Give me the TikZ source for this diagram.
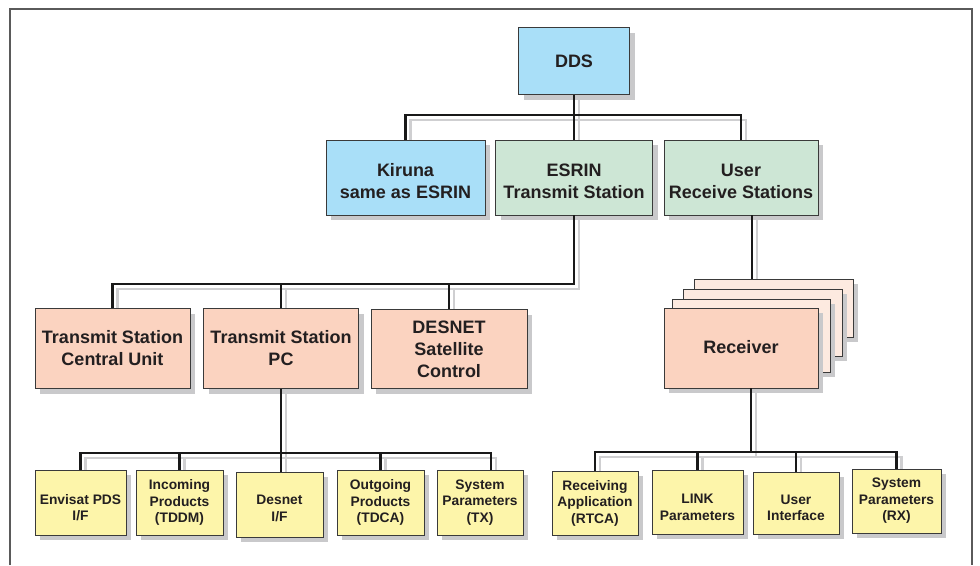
\documentclass[tikz,border=0pt]{standalone}
\usepackage{fontspec}
\setmainfont{Liberation Sans}
\usetikzlibrary{shadows,calc}
\pgfdeclarelayer{bg}
\pgfsetlayers{bg,main}
\definecolor{cblue}{HTML}{A9DFF8}
\definecolor{cgreen}{HTML}{CDE6D5}
\definecolor{csalmon}{HTML}{FBD3C0}
\definecolor{cpale}{HTML}{FDEAE0}
\definecolor{cyellow}{HTML}{FDF5AA}
\definecolor{boxc}{HTML}{3A3A3A}
\definecolor{txtc}{HTML}{231F20}
\definecolor{shc}{HTML}{C9C9CB}
\definecolor{lshc}{HTML}{CFCFD1}
\definecolor{framec}{HTML}{5A5A5A}
\newcommand\lowtext[2]{\raisebox{-#1}[\height][\depth]{\begin{tabular}{@{}c@{}}#2\end{tabular}}}
\tikzset{
  box/.style={draw=boxc, line width=0.9pt, text=txtc, align=center, inner sep=0pt,
    font=\bfseries\fontsize{18}{22}\selectfont,
    general shadow={fill=shc, shadow xshift=5pt, shadow yshift=-5pt}},
  small/.style={font=\bfseries\fontsize{13.8}{16.5}\selectfont},
  connblack/.style={line width=2.2pt, draw=black!90},
  connshadow/.style={line width=2.2pt, draw=lshc},
}
\newcommand\allconn{%
  \draw[cn] (dds.south) -- (esr.north);
  \draw[cn] (kir.north) |- (usr.north |- y1) -- (usr.north);
  \draw[cn] (tcu.north) |- (esr.south |- y2) -- (esr.south);
  \draw[cn] (tpc.north) -- (tpc.north |- y2);
  \draw[cn] (des.north) -- (des.north |- y2);
  \draw[cn] ([xshift=11pt]usr.south) -- ([xshift=11pt]usr.south |- r3.north);
  \draw[cn] (e1.north) |- ([xshift=11pt]e5.north |- y3) -- ([xshift=11pt]e5.north);
  \draw[cn] (tpc.south) -- (tpc.south |- e3.north);
  \draw[cn] (e2.north) -- (e2.north |- y3);
  \draw[cn] (e4.north) -- (e4.north |- y3);
  \draw[cn] ([xshift=10pt]rcv.south) -- ([xshift=10pt]rcv.south |- y4);
  \draw[cn] (f1.north) |- (f4.north |- y4) -- (f4.north);
  \draw[cn] (f2.north) -- (f2.north |- y4);
  \draw[cn] (f3.north) -- (f3.north |- y4);
}
\begin{document}
\begin{tikzpicture}[x=1pt,y=-1pt]
\useasboundingbox (0,0) rectangle (980,565);
\draw[framec, line width=1.3pt] (10,565) -- (10,9) -- (972,9) -- (972,565);

\coordinate (y1) at (0,115);
\coordinate (y2) at (0,284);
\coordinate (y3) at (0,453);
\coordinate (y4) at (0,452);

% level 1
\node[box, fill=cblue, minimum width=111pt, minimum height=67pt] (dds) at (574,61) {\lowtext{2pt}{DDS}};
% level 2
\node[box, fill=cblue, minimum width=159pt, minimum height=75pt] (kir) at (405.5,177.5) {\lowtext{6pt}{Kiruna\\same as ESRIN}};
\node[box, fill=cgreen, minimum width=157pt, minimum height=75pt] (esr) at (574,177.5) {\lowtext{6pt}{ESRIN\\Transmit Station}};
\node[box, fill=cgreen, minimum width=154pt, minimum height=75pt] (usr) at (741,177.5) {\lowtext{6pt}{User\\Receive Stations}};
% level 3
\node[box, fill=csalmon, minimum width=155pt, minimum height=80pt] (tcu) at (112.5,348.5) {\lowtext{1.5pt}{Transmit Station\\Central Unit}};
\node[box, fill=csalmon, minimum width=155pt, minimum height=80pt] (tpc) at (281,348.5) {\lowtext{1.5pt}{Transmit Station\\PC}};
\node[box, fill=csalmon, minimum width=156pt, minimum height=79pt] (des) at (449,349) {DESNET\\Satellite\\Control};
% receiver stack
\node[box, fill=cpale, minimum width=159pt, minimum height=58pt] (r3) at (773.5,308) {};
\node[box, fill=cpale, minimum width=159pt, minimum height=67pt] (r2) at (762.5,322.5) {};
\node[box, fill=cpale, minimum width=158pt, minimum height=73pt] (r1) at (751,335.5) {};
\node[box, fill=csalmon, minimum width=154pt, minimum height=80pt] (rcv) at (741,348) {\lowtext{1.5pt}{Receiver}};
% level 4 left
\node[box, small, fill=cyellow, minimum width=91pt, minimum height=65pt] (e1) at (80.5,502.5) {\lowtext{6.5pt}{Envisat PDS\\I/F}};
\node[box, small, fill=cyellow, minimum width=87pt, minimum height=65pt] (e2) at (179.5,502.5) {Incoming\\Products\\(TDDM)};
\node[box, small, fill=cyellow, minimum width=87pt, minimum height=65pt] (e3) at (279.5,504.5) {\lowtext{5pt}{Desnet\\I/F}};
\node[box, small, fill=cyellow, minimum width=87pt, minimum height=65pt] (e4) at (380.5,502.5) {Outgoing\\Products\\(TDCA)};
\node[box, small, fill=cyellow, minimum width=86pt, minimum height=65pt] (e5) at (480,502.5) {System\\Parameters\\(TX)};
% level 4 right
\node[box, small, fill=cyellow, minimum width=86pt, minimum height=64pt] (f1) at (595,503) {Receiving\\Application\\(RTCA)};
\node[box, small, fill=cyellow, minimum width=91pt, minimum height=64pt] (f2) at (697.5,502) {\lowtext{6.5pt}{LINK\\Parameters}};
\node[box, small, fill=cyellow, minimum width=86pt, minimum height=62pt] (f3) at (796,503) {\lowtext{6pt}{User\\Interface}};
\node[box, small, fill=cyellow, minimum width=89pt, minimum height=64pt] (f4) at (896.5,501) {System\\Parameters\\(RX)};

\begin{pgfonlayer}{bg}
\fill[white] (0,0) rectangle (980,565);
\begin{scope}[transform canvas={shift={(5pt,-5pt)}}, cn/.style={connshadow}]
\allconn
\end{scope}
\end{pgfonlayer}
\begin{scope}[cn/.style={connblack}]
\allconn
\end{scope}
\end{tikzpicture}
\end{document}
